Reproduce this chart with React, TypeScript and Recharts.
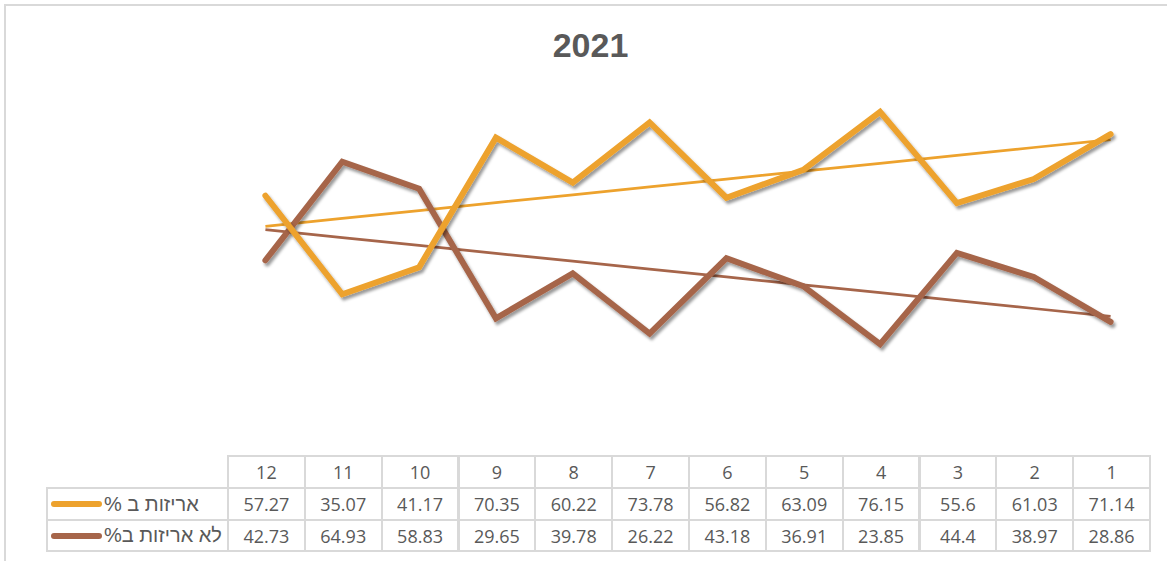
import * as React from "react";
import { ComposedChart, Line, XAxis, YAxis } from "recharts";

// months as shown in the data table (axis runs 12 -> 1, left to right)
const months = ["1", "2", "3", "4", "5", "6", "7", "8", "9", "10", "11", "12"];
const packagedPct = [71.14, 61.03, 55.6, 76.15, 63.09, 56.82, 73.78, 60.22, 70.35, 41.17, 35.07, 57.27];
const notPackagedPct = [28.86, 38.97, 44.4, 23.85, 36.91, 43.18, 26.22, 39.78, 29.65, 58.83, 64.93, 42.73];

const seriesNames = ["אריזות ב %", "לא אריזות ב%"];
const seriesColors = ["#EDA22D", "#A6654A"];

// Excel-style linear trendline (least squares over category index)
function linearTrend(values: number[]) {
  const n = values.length;
  const xs = values.map((_, i) => i + 1);
  const mx = xs.reduce((a, b) => a + b, 0) / n;
  const my = values.reduce((a, b) => a + b, 0) / n;
  let num = 0;
  let den = 0;
  xs.forEach((x, i) => {
    num += (x - mx) * (values[i] - my);
    den += (x - mx) * (x - mx);
  });
  const slope = num / den;
  return xs.map((x) => my + slope * (x - mx));
}

const packagedTrend = linearTrend(packagedPct);
const notPackagedTrend = linearTrend(notPackagedPct);

const chartData = months.map((m, i) => ({
  month: m,
  packaged: packagedPct[i],
  notPackaged: notPackagedPct[i],
  packagedTrend: packagedTrend[i],
  notPackagedTrend: notPackagedTrend[i],
}));

const GRID = "#d9d9d9";
const TEXT = "#595959";
const TABLE_LEFT = 227;
const TABLE_RIGHT = 1149;
const LEGEND_LEFT = 46;
const ROWS = [455, 487, 519, 550];
const colW = (TABLE_RIGHT - TABLE_LEFT) / months.length;

const cellFont: React.CSSProperties = {
  position: "absolute",
  fontFamily: "'Open Sans', 'Noto Sans', sans-serif",
  fontSize: 18,
  color: TEXT,
  display: "flex",
  alignItems: "center",
  justifyContent: "center",
  boxSizing: "border-box",
};

export default function App() {
  const displayMonths = [...months].reverse();
  const rowsValues = [packagedPct, notPackagedPct].map((arr) => [...arr].reverse());

  return (
    <div
      style={{
        position: "absolute",
        left: 0,
        top: 0,
        width: 1167,
        height: 561,
        background: "#fff",
        overflow: "hidden",
      }}
    >
      <div
        style={{
          position: "absolute",
          left: 4,
          top: 4,
          width: 1180,
          height: 580,
          borderLeft: `2px solid ${GRID}`,
          borderTop: `2px solid ${GRID}`,
        }}
      />
      <div
        style={{
          position: "absolute",
          left: 0,
          width: 1181,
          top: 26,
          textAlign: "center",
          fontFamily: "'Liberation Sans', Arial, sans-serif",
          fontWeight: "bold",
          fontSize: 34,
          color: TEXT,
        }}
      >
        2021
      </div>

      <div style={{ position: "absolute", left: 0, top: 0 }}>
        <ComposedChart
          width={1167}
          height={461}
          data={chartData}
          margin={{ top: 6, right: 1167 - TABLE_RIGHT, bottom: 11, left: TABLE_LEFT }}
        >
          <defs>
            <filter id="lineShadow" x="-10%" y="-10%" width="120%" height="130%">
              <feDropShadow dx="2" dy="3" stdDeviation="1.8" floodColor="#000" floodOpacity="0.4" />
            </filter>
          </defs>
          <XAxis
            dataKey="month"
            hide
            reversed
            padding={{ left: colW / 2, right: colW / 2 }}
          />
          <YAxis hide domain={[0, 100]} />
          <Line
            type="linear"
            dataKey="packagedTrend"
            stroke={seriesColors[0]}
            strokeWidth={2.75}
            dot={false}
            isAnimationActive={false}
          />
          <Line
            type="linear"
            dataKey="notPackagedTrend"
            stroke={seriesColors[1]}
            strokeWidth={2.75}
            dot={false}
            isAnimationActive={false}
          />
          <Line
            type="linear"
            dataKey="notPackaged"
            stroke={seriesColors[1]}
            strokeWidth={6}
            strokeLinecap="round"
            filter="url(#lineShadow)"
            dot={false}
            isAnimationActive={false}
          />
          <Line
            type="linear"
            dataKey="packaged"
            stroke={seriesColors[0]}
            strokeWidth={6}
            strokeLinecap="round"
            filter="url(#lineShadow)"
            dot={false}
            isAnimationActive={false}
          />
        </ComposedChart>
      </div>

      {/* data table */}
      {displayMonths.map((m, c) => (
        <div
          key={"h" + m}
          style={{
            ...cellFont,
            left: TABLE_LEFT + c * colW,
            top: ROWS[0],
            width: colW + 2,
            height: ROWS[1] - ROWS[0] + 2,
            border: `2px solid ${GRID}`,
          }}
        >
          {m}
        </div>
      ))}
      {rowsValues.map((vals, r) => (
        <React.Fragment key={"r" + r}>
          <div
            style={{
              ...cellFont,
              left: LEGEND_LEFT,
              top: ROWS[r + 1],
              width: TABLE_LEFT - LEGEND_LEFT + 2,
              height: ROWS[r + 2] - ROWS[r + 1] + 2,
              border: `2px solid ${GRID}`,
              justifyContent: "flex-start",
              paddingLeft: 3,
            }}
          >
            <span
              style={{
                display: "inline-block",
                width: 51,
                height: 6,
                borderRadius: 3,
                background: seriesColors[r],
                marginRight: 2,
              }}
            />
            <span
              dir="rtl"
              style={{ fontFamily: "'Liberation Sans', Arial, sans-serif", fontSize: 20 }}
            >
              {seriesNames[r]}
            </span>
          </div>
          {vals.map((v, c) => (
            <div
              key={"c" + r + c}
              style={{
                ...cellFont,
                left: TABLE_LEFT + c * colW,
                top: ROWS[r + 1],
                width: colW + 2,
                height: ROWS[r + 2] - ROWS[r + 1] + 2,
                border: `2px solid ${GRID}`,
              }}
            >
              {v}
            </div>
          ))}
        </React.Fragment>
      ))}
    </div>
  );
}
